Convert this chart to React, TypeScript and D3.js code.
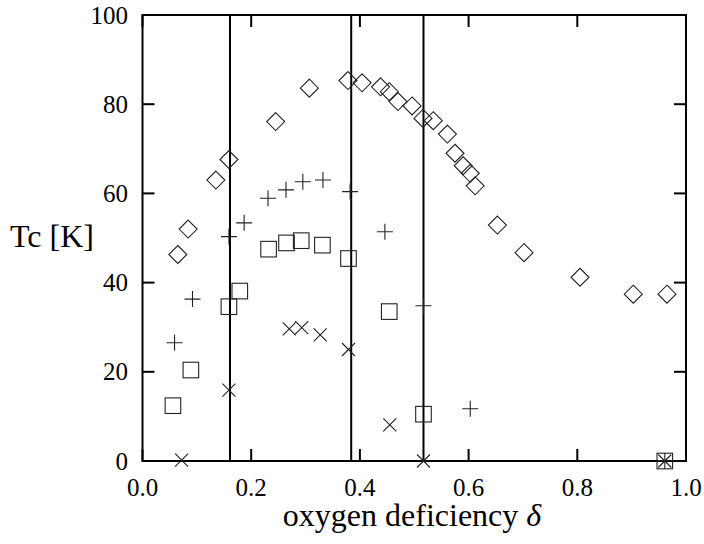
import React, { useRef, useLayoutEffect } from "react";
import * as d3 from "d3";

// diamonds
const diamondX = [0.065, 0.084, 0.135, 0.159, 0.245, 0.307, 0.378, 0.404, 0.438, 0.454, 0.47, 0.496, 0.516, 0.535, 0.561, 0.575, 0.59, 0.603, 0.612, 0.653, 0.702, 0.805, 0.903, 0.965];
const diamondY = [46.3, 52.0, 63.0, 67.6, 76.1, 83.6, 85.3, 84.8, 83.9, 82.8, 80.6, 79.6, 76.8, 76.3, 73.3, 69.0, 66.2, 64.5, 61.7, 52.9, 46.7, 41.2, 37.4, 37.4];

// plus
const plusX = [0.059, 0.092, 0.159, 0.187, 0.231, 0.264, 0.295, 0.332, 0.382, 0.446, 0.517, 0.603, 0.961];
const plusY = [26.5, 36.3, 50.3, 53.4, 58.9, 60.8, 62.6, 63.0, 60.4, 51.4, 34.8, 11.7, 0];

// squares
const squareX = [0.056, 0.089, 0.159, 0.179, 0.232, 0.265, 0.292, 0.331, 0.379, 0.454, 0.517, 0.961];
const squareY = [12.4, 20.4, 34.6, 38.1, 47.5, 48.9, 49.4, 48.4, 45.4, 33.5, 10.5, 0];

// crosses
const crossX = [0.072, 0.159, 0.27, 0.293, 0.327, 0.379, 0.455, 0.517, 0.961];
const crossY = [0.2, 15.9, 29.6, 29.9, 28.3, 25.0, 8.1, 0, 0];

// vertical phase boundaries
const boundaries = [0.161, 0.384, 0.517];

const xTicks = [0, 0.2, 0.4, 0.6, 0.8, 1.0];
const yTicks = [0, 20, 40, 60, 80, 100];

const W = 704;
const H = 544;
const left = 142.5, right = 686, top = 15, bottom = 461;

const x = d3.scaleLinear().domain([0, 1]).range([left, right]);
const y = d3.scaleLinear().domain([0, 100]).range([bottom, top]);
const fmt = d3.format(".1f");

const zip = (xs: number[], ys: number[]) => xs.map((v, i) => [x(v), y(ys[i])]);

const SERIF = "'Liberation Serif', 'Times New Roman', serif";

// text is placed by measuring it, so alignment works whatever font is used
function Label({ x, y, align, size, children }: { x: number; y: number; align: number; size: number; children: any }) {
  const ref = useRef<SVGTextElement>(null);
  useLayoutEffect(() => {
    const el = ref.current;
    if (!el) return;
    const w = el.getComputedTextLength();
    el.setAttribute("x", String(x - w * align));
  });
  return (
    <text ref={ref} className="lbl" x={x} y={y} fontFamily={SERIF} style={{ fontFamily: SERIF, fontSize: size }}>
      {children}
    </text>
  );
}

export default function App() {
  const tl = 12;

  return (
    <svg width={W} height={H} style={{ position: "absolute", left: 0, top: 0, background: "#fff" }}>
      <style>{`svg text, svg tspan, .lbl { font-family: ${SERIF} !important; }`}</style>

      {/* phase lines */}
      {boundaries.map((b) => (
        <line key={b} x1={x(b)} x2={x(b)} y1={top} y2={bottom} stroke="#000" strokeWidth={2} />
      ))}

      {/* ticks, inward and mirrored */}
      <g stroke="#000" strokeWidth={2}>
        {xTicks.map((t) => (
          <g key={"x" + t}>
            <line x1={x(t)} x2={x(t)} y1={bottom} y2={bottom - tl} />
            <line x1={x(t)} x2={x(t)} y1={top} y2={top + tl} />
          </g>
        ))}
        {yTicks.map((t) => (
          <g key={"y" + t}>
            <line x1={left} x2={left + tl} y1={y(t)} y2={y(t)} />
            <line x1={right} x2={right - tl} y1={y(t)} y2={y(t)} />
          </g>
        ))}
      </g>

      <rect x={left} y={top} width={right - left} height={bottom - top} fill="none" stroke="#000" strokeWidth={2} />

      {/* labels */}
      {xTicks.map((t) => (
        <Label key={"xl" + t} x={x(t)} y={496} align={0.5} size={25}>{fmt(t)}</Label>
      ))}
      {yTicks.map((t) => (
        <Label key={"yl" + t} x={128} y={y(t) + 8.5} align={1} size={25}>{t}</Label>
      ))}
      <Label x={52} y={247} align={0.5} size={32}>Tc [K]</Label>
      <Label x={412} y={526} align={0.5} size={32}>
        oxygen deficiency <tspan style={{ fontStyle: "italic" }}>δ</tspan>
      </Label>

      {/* markers */}
      <g fill="none" stroke="#222" strokeWidth={1.1}>
        {zip(diamondX, diamondY).map(([px, py], i) => (
          <path key={"d" + i} d={`M${px},${py - 9}L${px + 9},${py}L${px},${py + 9}L${px - 9},${py}Z`} />
        ))}
        {zip(squareX, squareY).map(([px, py], i) => (
          <rect key={"s" + i} x={px - 7.8} y={py - 7.8} width={15.6} height={15.6} />
        ))}
        {zip(plusX, plusY).map(([px, py], i) => (
          <path key={"p" + i} d={`M${px - 8},${py}H${px + 8}M${px},${py - 8}V${py + 8}`} />
        ))}
        {zip(crossX, crossY).map(([px, py], i) => (
          <path key={"c" + i} d={`M${px - 6.5},${py - 6.5}L${px + 6.5},${py + 6.5}M${px - 6.5},${py + 6.5}L${px + 6.5},${py - 6.5}`} />
        ))}
      </g>
    </svg>
  );
}
